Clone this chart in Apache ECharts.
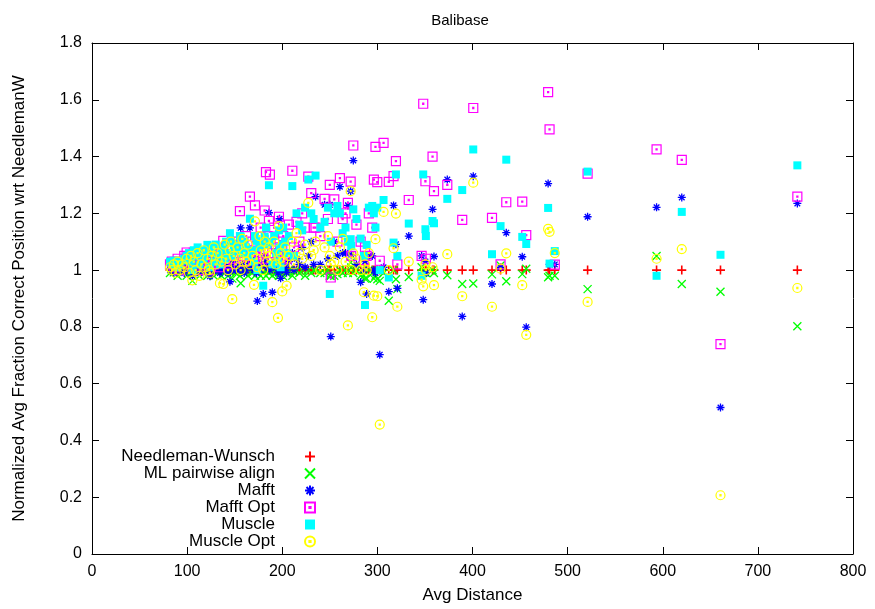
<!DOCTYPE html>
<html>
<head>
<meta charset="utf-8">
<script src="https://cdn.jsdelivr.net/npm/echarts@6/dist/echarts.min.js"></script>
<style>
html,body{margin:0;padding:0;background:#fff;}
#chart{width:875px;height:609px;}
</style>
</head>
<body>
<div id="chart"></div>
<script>
// Avg Distance of each alignment
var dist = [
82,84,86,88,90,92,95,97,99.5,102,
104,105.5,107,109,111,113,115,117.5,119,121.3,
123,124,126,128,130,132,134.5,136,138,139.5,
141,143,145,146,147.5,149,151,153,155.5,156.3,
158,160,162,164,166,168.6,170.3,171.3,173,173.8,
176,177.3,180,181.5,182.9,184.5,186,187,189.6,191.5,
193.5,195.5,196.5,197.2,198.3,200,201,203,204.6,207,
210.6,212.3,215,218,221,224,
227.4,230.5,233,235,240,244.5,248,250,251,254.7,
258,260.6,263.5,266.5,269,271.9,272.5,274.7,278,282.4,
285.8,287,288.7,291,294.6,296.3,298,299.9,
302.5,306.5,312,317,319.5,321,333,346.5,348.2,350.5,
351,358,359.5,373.5,389.2,400.8,420.5,429.5,435.5,452.3,
456.5,479.5,481,486.5,521,593.5,620,660.7,741.5
];
var needlemanWunsch = [
1,1,1,1,1,1,1,1,1,1, 1,1,1,1,1,1,1,1,1,1, 1,1,1,1,1,1,1,1,1,1,
1,1,1,1,1,1,1,1,1,1, 1,1,1,1,1,1,1,1,1,1, 1,1,1,1,1,1,1,1,1,1,
1,1,1,1,1,1,1,1,1,1, 1,1,1,1,1,1,
1,1,1,1,1,1,1,1,1,1, 1,1,1,1,1,1,1,1,1,1, 1,1,1,1,1,1,1,1,
1,1,1,1,1,1,1,1,1,1, 1,1,1,1,1,1,1,1,1,1, 1,1,1,1,1,1,1,1,1
];
var mlPairwise = [
0.99,1.0,0.992,1.0,0.98,1.0,0.99,1.0,0.98,1.0,
0.99,0.962,1.0,0.99,1.0,0.98,1.0,0.99,1.0,0.98,
1.0,0.99,1.0,0.98,1.0,0.99,1.0,0.98,1.0,0.99,
1.0,0.98,1.0,0.99,0.97,1.0,0.99,1.0,0.98,0.954,
1.0,0.99,1.0,0.98,1.0,0.99,1.0,0.98,1.0,0.99,
1.0,0.98,0.99,1.0,0.98,1.0,0.99,1.0,0.98,1.0,
0.99,1.0,0.98,0.99,1.0,0.99,0.978,1.0,0.99,1.0,
0.98,0.994,1.0,0.99,1.0,0.98,
1.0,0.99,1.0,1.0,0.99,0.99,1.0,0.98,0.98,0.98,
0.986,1.0,0.99,1.0,0.99,1.027,1.009,0.99,1.0,0.98,
0.98,0.97,0.97,1.0,0.99,0.97,0.98,0.968,
0.962,0.99,0.892,1.0,0.968,0.933,0.976,1.01,0.99,1.0,
0.99,1.0,0.99,0.982,0.951,0.953,0.985,1.016,0.961,0.986,
1.005,0.975,0.98,0.98,0.933,1.05,0.951,0.924,0.802
];
var mafft = [
1.0,1.01,0.99,1.0,1.02,1.0,1.01,0.99,1.02,1.0,
1.03,0.98,1.01,1.0,1.02,0.99,1.01,1.0,1.03,1.0,
1.02,0.978,1.0,1.01,1.0,1.03,0.99,1.0,1.02,1.0,
1.01,0.99,0.959,1.02,1.0,1.03,1.0,1.01,1.0,1.149,
1.02,0.99,1.0,1.03,1.149,1.01,1.0,1.04,0.99,0.891,
1.02,1.0,0.916,1.05,1.03,1.01,1.202,1.0,0.922,1.03,
1.01,0.99,1.02,1.181,0.971,1.0,1.02,1.01,0.992,1.03,
1.06,1.0,1.04,1.02,1.08,1.01,
1.05,1.1,1.02,1.259,1.02,1.23,1.04,1.23,0.766,1.1,
1.05,1.294,1.06,1.06,1.228,1.278,1.054,1.386,1.02,0.957,
1.0,1.03,0.916,1.05,1.05,1.0,0.99,1.0,
0.702,1.01,0.924,1.228,1.091,0.936,1.12,1.05,0.896,1.03,
0.99,1.214,1.048,1.319,0.837,1.331,0.951,1.01,1.132,1.047,
0.799,1.305,1.02,1.02,1.188,1.221,1.256,0.516,1.235
];
var mafftOpt = [
1.02,1.03,1.01,1.02,1.04,1.0,1.03,1.05,1.062,1.04,
1.02,1.01,1.062,1.03,1.05,1.0,1.04,1.056,1.02,1.06,
1.03,1.0,1.05,1.02,1.07,1.04,1.01,1.06,1.103,1.03,
1.08,1.05,1.02,1.07,1.083,1.04,1.1,1.06,1.208,1.09,
1.05,1.03,1.12,1.07,1.259,1.1,1.05,1.228,1.08,1.02,
1.06,1.15,1.04,1.21,1.345,1.12,1.173,1.336,1.06,1.15,
1.08,1.05,1.188,1.1,1.03,1.07,1.12,1.05,1.04,1.16,
1.35,1.08,1.17,1.1,1.2,1.15,
1.329,1.271,1.15,1.15,1.12,1.251,1.18,1.3,0.974,1.249,
1.1,1.324,1.18,1.2,1.237,1.312,1.05,1.439,1.16,1.1,
1.035,1.08,1.05,1.2,1.15,1.319,1.434,1.31,
1.033,1.448,1.311,1.331,1.384,1.02,1.247,1.05,1.586,1.313,
1.04,1.4,1.278,1.3,1.177,1.571,1.184,1.02,1.239,1.241,
1.123,1.627,1.496,1.019,1.34,1.425,1.388,0.739,1.259
];
var muscle = [
1.03,1.02,1.033,1.033,1.01,1.02,1.033,1.04,1.05,1.06,
1.03,1.0,1.07,1.05,1.08,1.02,1.06,1.04,1.07,1.089,
1.083,1.01,1.06,1.03,1.09,1.05,1.02,1.07,1.08,1.04,
1.1,1.06,1.13,1.1,1.05,1.08,1.09,1.07,1.12,1.118,
1.06,1.1,1.08,1.05,1.181,1.07,1.03,1.12,1.103,1.0,
1.08,1.091,0.945,1.118,1.15,1.09,1.299,1.1,1.02,1.12,
1.06,1.03,1.14,1.08,1.01,1.09,1.15,1.1,1.06,1.12,
1.296,1.05,1.2,1.16,1.14,1.22,
1.319,1.2,1.18,1.333,1.15,1.17,1.22,0.916,1.1,1.2,
1.226,1.2,1.13,1.15,1.1,1.109,1.085,1.214,1.18,1.111,
1.05,0.877,1.089,1.22,1.226,1.2,1.15,1.22,
1.0,1.247,0.974,1.097,1.337,1.05,1.164,0.98,1.337,1.144,
1.12,1.173,1.165,1.251,1.282,1.425,1.056,1.155,1.389,1.117,
1.092,1.219,1.023,1.067,1.347,0.98,1.205,1.054,1.369
];
var muscleOpt = [
1.01,1.0,1.02,0.99,1.03,1.0,1.02,1.01,1.04,0.99,
1.05,0.964,1.03,1.0,1.06,0.98,1.02,1.07,1.01,1.04,
1.0,0.99,1.05,1.08,1.02,1.06,0.954,1.03,0.951,1.09,
1.04,1.0,1.07,1.1,0.898,1.05,1.02,1.08,1.04,1.0,
1.11,1.06,1.03,1.09,1.02,1.05,0.948,1.172,1.04,1.01,
1.12,1.07,1.0,1.1,1.06,1.03,1.08,1.05,0.887,1.1,
1.02,0.832,1.155,1.04,1.06,0.925,1.03,1.08,0.945,1.05,
1.1,1.02,1.13,1.06,1.04,1.09,
1.237,1.05,1.07,1.1,1.0,1.08,1.12,1.05,1.02,1.03,
1.0,1.08,1.11,1.03,0.805,1.278,1.0,1.059,1.04,1.0,
0.922,1.02,1.0,1.06,0.834,0.91,1.109,0.908,
0.456,1.205,1.0,1.077,1.199,0.871,1.03,0.966,0.943,1.02,
1.0,1.01,0.947,1.056,0.908,1.308,0.871,1.005,1.059,0.947,
0.772,1.145,1.135,1.06,0.888,1.04,1.074,0.207,0.937
];
var seriesNames = ['Needleman-Wunsch','ML pairwise align','Mafft','Mafft Opt','Muscle','Muscle Opt'];
var xTicks = [0,100,200,300,400,500,600,700,800];
var yTicks = [0,0.2,0.4,0.6,0.8,1,1.2,1.4,1.6,1.8];

var FONT = "'Liberation Sans', Arial, Helvetica, sans-serif";
function pairs(ys){ return dist.map(function(x,i){ return [x, ys[i]]; }); }

var symPlus = 'path://M0,5L10,5M5,0L5,10';
var symCross = 'path://M0,0L10,10M0,10L10,0';
var symStar = 'path://M0,5L10,5M5,0L5,10M1.5,1.5L8.5,8.5M1.5,8.5L8.5,1.5';
var symBoxDot = 'path://M0,0L10,0L10,10L0,10Z M4.4,4.4L5.6,4.4L5.6,5.6L4.4,5.6Z';
var symBox = 'path://M0,0L10,0L10,10L0,10Z';
var symCircDot = 'path://M0,5A5,5 0 1,1 10,5A5,5 0 1,1 0,5Z M4.4,4.4L5.6,4.4L5.6,5.6L4.4,5.6Z';

function strokeSeries(name, data, symbol, size, color, lw){
  return {
    name: name, type: 'scatter', data: data, symbol: symbol, symbolSize: size,
    symbolKeepAspect: true,
    itemStyle: { color: 'rgba(0,0,0,0)', borderColor: color, borderWidth: lw, opacity: 1 },
    emphasis: { disabled: true }, silent: true
  };
}

var chart = echarts.init(document.getElementById('chart'), null, {renderer: 'canvas'});
var axisCommon = {
  type: 'value',
  axisLine: { show: true, onZero: false, lineStyle: { color: '#000', width: 1 } },
  axisTick: { show: true, inside: true, length: 7, lineStyle: { color: '#000', width: 1 } },
  splitLine: { show: false }
};
var option = {
  animation: false,
  backgroundColor: '#fff',
  title: {
    text: 'Balibase', left: 455, top: 8, textAlign: 'center',
    textStyle: { fontFamily: FONT, fontSize: 15, fontWeight: 'normal', color: '#000' }
  },
  legend: {
    orient: 'vertical', align: 'right', right: 554, top: 443,
    itemWidth: 60, itemHeight: 10, itemGap: 0,
    data: seriesNames,
    textStyle: { fontFamily: FONT, fontSize: 17, color: '#000', lineHeight: 16 },
    selectedMode: false
  },
  grid: { left: 92, right: 22, top: 43, bottom: 53, containLabel: false },
  xAxis: [
    Object.assign({}, axisCommon, {
      min: xTicks[0], max: xTicks[xTicks.length-1], interval: 100, position: 'bottom',
      name: 'Avg Distance', nameLocation: 'middle', nameGap: 33,
      nameTextStyle: { fontFamily: FONT, fontSize: 17, color: '#000' },
      axisLabel: { fontFamily: FONT, fontSize: 16, color: '#000', margin: 10 }
    }),
    Object.assign({}, axisCommon, {
      min: xTicks[0], max: xTicks[xTicks.length-1], interval: 100, position: 'top',
      axisLabel: { show: false }
    })
  ],
  yAxis: [
    Object.assign({}, axisCommon, {
      min: yTicks[0], max: yTicks[yTicks.length-1], interval: 0.2, position: 'left',
      name: 'Normalized Avg Fraction Correct Position wrt NeedlemanW',
      nameLocation: 'middle', nameGap: 64, nameRotate: 90,
      nameTextStyle: { fontFamily: FONT, fontSize: 17, color: '#000' },
      axisLabel: { fontFamily: FONT, fontSize: 16, color: '#000', margin: 10,
        formatter: function(v){ return String(Math.round(v*10)/10); } }
    }),
    Object.assign({}, axisCommon, {
      min: yTicks[0], max: yTicks[yTicks.length-1], interval: 0.2, position: 'right',
      axisLabel: { show: false }
    })
  ],
  series: [
    strokeSeries(seriesNames[0], pairs(needlemanWunsch), symPlus, 9, '#ff0000', 1.6),
    strokeSeries(seriesNames[1], pairs(mlPairwise), symCross, 8, '#00ff00', 1.3),
    strokeSeries(seriesNames[2], pairs(mafft), symStar, 8, '#0000ff', 1.3),
    strokeSeries(seriesNames[3], pairs(mafftOpt), symBoxDot, 9, '#ff00ff', 1.2),
    {
      name: seriesNames[4], type: 'scatter', data: pairs(muscle), symbol: symBox, symbolSize: 8,
      itemStyle: { color: '#00ffff', borderWidth: 0, opacity: 1 }, emphasis: { disabled: true }, silent: true
    },
    strokeSeries(seriesNames[5], pairs(muscleOpt), symCircDot, 9, '#ffff00', 1.2)
  ]
};
chart.setOption(option);
</script>
</body>
</html>
